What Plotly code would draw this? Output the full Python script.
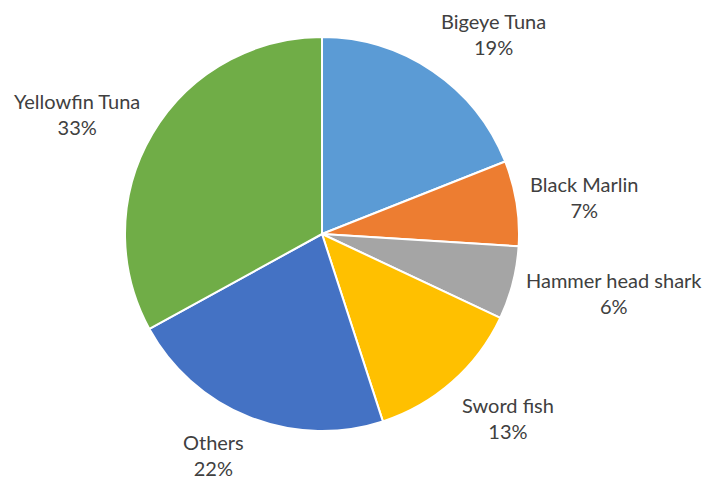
import numpy as np
import plotly.graph_objects as go

# Catch composition by species (percent of total)
species = ["Bigeye Tuna", "Black Marlin", "Hammer head shark", "Sword fish", "Others", "Yellowfin Tuna"]
share = [19, 7, 6, 13, 22, 33]
colors = ["#5B9BD5", "#ED7D31", "#A5A5A5", "#FFC000", "#4472C4", "#70AD47"]

W, H = 709, 479
margin = dict(l=0, r=65, t=37, b=48)
plot_w = W - margin["l"] - margin["r"]
plot_h = H - margin["t"] - margin["b"]
radius = min(plot_w, plot_h) / 2
label_r = radius + 13  # distance of label anchor from the pie centre, px
font_size = 20
label_h = 2 * 1.3 * font_size  # two-line label height, px

fig = go.Figure(
    go.Pie(
        labels=species,
        values=share,
        sort=False,
        direction="clockwise",
        rotation=0,
        marker=dict(colors=colors, line=dict(color="white", width=2)),
        textinfo="none",
        showlegend=False,
        hoverinfo="label+percent",
    )
)

# Outside labels: anchored just beyond the pie edge at each slice's mid-angle
vals = np.array(share, dtype=float)
frac = vals / vals.sum()
mid = (np.cumsum(frac) - frac / 2) * 2 * np.pi  # clockwise from 12 o'clock
for name, f, th in zip(species, frac, mid):
    s, c = np.sin(th), np.cos(th)
    xa = "left" if s > 0.25 else ("right" if s < -0.25 else "center")
    if c > 0.6:
        ya, dy = "bottom", 0
    elif c < -0.6:
        ya, dy = "top", 0
    else:
        ya, dy = "middle", c * label_h / 2
    fig.add_annotation(
        x=0.5 + label_r * s / plot_w,
        y=0.5 + label_r * c / plot_h,
        xref="paper",
        yref="paper",
        text=f"{name}<br>{round(f * 100):.0f}%",
        showarrow=False,
        xanchor=xa,
        yanchor=ya,
        yshift=dy,
        borderpad=0,
        align="center",
        font=dict(family="Lato", size=font_size, color="#404040"),
    )

fig.update_layout(
    width=W,
    height=H,
    margin=dict(**margin, autoexpand=False),
    paper_bgcolor="white",
    plot_bgcolor="white",
)

fig.write_html("out.html")
